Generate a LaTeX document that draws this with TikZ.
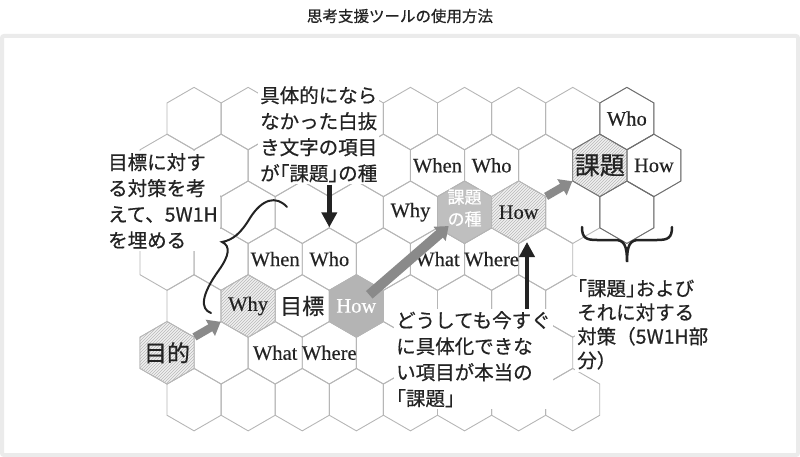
\documentclass[tikz,border=0pt]{standalone}
\usepackage{fontspec}
\setmainfont{Liberation Serif}[FakeBold=0.4]
\newfontfamily\jpfont{Noto Sans CJK JP}[FakeBold=0.6]
\newfontfamily\jphalt{Noto Sans CJK JP}[RawFeature=+halt, FakeBold=0.6]
\usetikzlibrary{arrows.meta, positioning, shapes.geometric, patterns, calc}

\definecolor{HexLine}{RGB}{182,182,182}
\definecolor{HexDark}{RGB}{110,110,110}
\definecolor{HatchBg}{RGB}{240,240,240}
\definecolor{HatchLine}{RGB}{185,185,185}
\definecolor{SeedGray}{RGB}{180,180,180}
\definecolor{ArrowGray}{RGB}{138,138,138}
\definecolor{FrameGray}{RGB}{235,235,235}
\definecolor{InkDark}{RGB}{35,35,35}

% half-width corner brackets
\newcommand{\kagi}[1]{{\jphalt 「}#1{\jphalt 」}}

\begin{document}
\begin{tikzpicture}[x=1pt, y=-1pt,
    hexcell/.style={draw=HexLine, line width=0.9pt, regular polygon, regular polygon sides=6,
      shape border rotate=30, minimum size=62.4pt, inner sep=0pt},
    hatched/.style={preaction={fill=HatchBg}, pattern=north east lines, pattern color=HatchLine},
    solidgray/.style={fill=SeedGray, draw=SeedGray},
    wlbl/.style={font=\fontsize{20.5}{20.5}\selectfont, text=InkDark, inner sep=0pt},
    jplbl/.style={font=\jpfont\fontsize{23}{23}\selectfont, text=InkDark, inner sep=0pt},
    note/.style={fill=white, inner sep=2pt, align=left, text=InkDark,
      font=\jpfont\fontsize{19.5}{26}\selectfont},
    grayarrow/.style={draw=ArrowGray, line width=8pt, -{Triangle[length=12pt, width=18pt]}},
    blkarrow/.style={draw=InkDark, line width=4.5pt, -{Triangle[length=15pt, width=15pt]}}]

    \useasboundingbox (0,0) rectangle (800,457);
    \draw[FrameGray, line width=4pt, rounded corners=2pt] (2,36) rectangle (798,455);

    \node[font=\jpfont\fontsize{15.5}{15.5}\selectfont, text=InkDark] (title) at (400,16) {思考支援ツールの使用方法};

    % honeycomb
    \foreach \r/\n in {1/8, 2/9, 3/8, 4/7, 5/7, 6/7, 7/7} {
        \foreach \i in {0,...,\n} {
            \pgfmathsetmacro\hx{167+(\i+0.5*mod(\r,2))*54.1}
            \pgfmathsetmacro\hy{352.8-(6-\r)*46.85}
            \node[hexcell] (h-\r-\i) at (\hx,\hy) {};
        }
    }

    % marked cells
    \node[hexcell, hatched] (mokuteki) at (h-6-0) {};
    \node[hexcell, hatched] (whyhex) at (h-5-1) {};
    \node[hexcell, solidgray] (howgray) at (h-5-3) {};
    \node[hexcell, solidgray, fill=SeedGray!85] (seed) at (h-3-5) {};
    \node[hexcell, hatched] (howhatch) at (h-3-6) {};
    \node[hexcell, draw=HexDark] (whotop) at (h-1-8) {};
    \node[hexcell, draw=HexDark] (howtop) at (h-2-9) {};
    \node[hexcell, draw=HexDark] (blanktop) at (h-3-8) {};
    \node[hexcell, hatched, draw=HexDark] (kadai) at (h-2-8) {};

    % cell labels
    \node[wlbl] (who-a) at (whotop) {Who};
    \node[wlbl] (when-a) at (h-2-5) {When};
    \node[wlbl] (who-b) at (h-2-6) {Who};
    \node[jplbl, font=\jpfont\fontsize{25}{25}\selectfont] (kadai-lbl) at (kadai) {課題};
    \node[wlbl] (how-a) at (howtop) {How};
    \node[wlbl] (why-a) at (h-3-4) {Why};
    \node[font=\jpfont\fontsize{17}{22}\selectfont, text=white, align=center, inner sep=0pt]
        (seed-lbl) at ($(seed)+(0,-4)$) {課題\\の種};
    \node[wlbl] (how-b) at (howhatch) {How};
    \node[wlbl] (when-b) at (h-4-2) {When};
    \node[wlbl] (who-c) at (h-4-3) {Who};
    \node[wlbl] (what-a) at (h-4-5) {What};
    \node[wlbl] (where-a) at (h-4-6) {Where};
    \node[wlbl] (why-b) at (whyhex) {Why};
    \node[jplbl, font=\jpfont\fontsize{22}{22}\selectfont] (mokuhyo) at (h-5-2) {目標};
    \node[wlbl, text=white] (how-c) at (howgray) {How};
    \node[jplbl] (mokuteki-lbl) at (mokuteki) {目的};
    \node[wlbl] (what-b) at (h-6-2) {What};
    \node[wlbl] (where-b) at (h-6-3) {Where};

    % notes
    \node[note, anchor=north west] (goaltxt) at (106,151) {目標に対す\\る対策を考\\えて、5W1H\\を埋める};
    \node[note, anchor=north west] (seedtxt) at (258,84) {具体的になら\\なかった白抜\\き文字の項目\\が\kagi{課題}の種};
    \node[note, anchor=north west] (realtxt) at (394,309) {どうしても今すぐ\\に具体化できな\\い項目が本当の\\\kagi{課題}};
    \node[note, anchor=north west, font=\jpfont\fontsize{19.5}{24}\selectfont] (pairtxt) at (575,277)
        {\kagi{課題}および\\それに対する\\対策（5W1H部\\分）};

    % arrows
    \draw[grayarrow] (mokuteki) -- (whyhex);
    \draw[grayarrow, line width=10pt, shorten <=-12pt, shorten >=-8pt] (howgray) -- (seed);
    \draw[grayarrow] (howhatch) -- (kadai);

    \coordinate (uptip) at (527,242);
    \draw[blkarrow] (seedtxt.south -| who-c) -- (h-4-3);
    \draw[blkarrow] (realtxt.north -| uptip) -- (uptip);

    % braces
    \draw[InkDark, line width=2pt, line cap=round]
        (287,207) .. controls (276,195) and (262,199) .. (250,218)
        .. controls (241,233) and (233,240) .. (222,242)
        .. controls (231,246) and (229,256) .. (219,270)
        .. controls (201,295) and (200,309) .. (211,313);
    \draw[InkDark, line width=2.5pt, line cap=round]
        (582,227) .. controls (582,238) and (586,240) .. (597,240) -- (615,240)
        .. controls (624,240) and (627,245) .. (627,262)
        .. controls (627,245) and (630,240) .. (639,240) -- (657,240)
        .. controls (668,240) and (672,238) .. (672,227);
\end{tikzpicture}
\end{document}
